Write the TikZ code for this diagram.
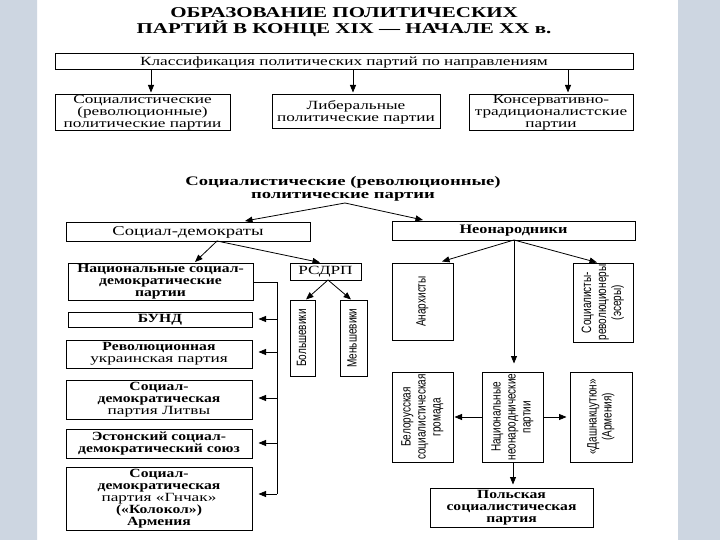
\documentclass[tikz,border=0pt]{standalone}
\usepackage{fontspec}
\setmainfont{Liberation Serif}
\newfontfamily\wserif[FakeStretch=1.25]{Liberation Serif}
\newfontfamily\wreg[FakeStretch=1.38]{Liberation Serif}
\newfontfamily\nsans[FakeStretch=0.74]{Liberation Sans}
\usetikzlibrary{arrows.meta,calc}
\definecolor{sTop}{RGB}{132,140,152}
\definecolor{sTop2}{RGB}{175,183,195}
\definecolor{sMid}{RGB}{205,214,225}
\definecolor{sLow}{RGB}{232,236,240}
\definecolor{sBot}{RGB}{150,150,152}
\pgfdeclareverticalshading{sideshade}{100bp}{color(0bp)=(sBot); color(2bp)=(sBot); color(5bp)=(sLow); color(25bp)=(sMid); color(80bp)=(sMid); color(93bp)=(sTop2); color(100bp)=(sTop)}
\tikzset{
  bx/.style={draw=black, line width=1pt, inner sep=0pt, align=center, font=\wreg\fontsize{12.5}{12}\selectfont},
  bxb/.style={bx, font=\wserif\bfseries\fontsize{12.5}{12}\selectfont},
  vbx/.style={draw=black, line width=1pt, inner sep=0pt, font=\nsans\fontsize{13.5}{15}\selectfont},
  ttl/.style={font=\wserif\bfseries\fontsize{15}{15}\selectfont, inner sep=0pt},
  sttl/.style={font=\wserif\bfseries\fontsize{13}{13}\selectfont, inner sep=0pt},
  arr/.style={line width=0.8pt, -{Triangle[length=7.5pt,width=6pt]}},
  ln/.style={line width=0.8pt}
}
\newcommand{\vtext}[1]{\rotatebox{90}{\begin{tabular}{@{}c@{}}#1\end{tabular}}}
\begin{document}
\begin{tikzpicture}[x=1pt,y=-1pt]
\useasboundingbox (0,0) rectangle (720,540);
\fill[white] (0,0) rectangle (720,540);
\shade[shading=sideshade] (0,0) rectangle (37,540);
\shade[shading=sideshade] (678,0) rectangle (720,540);

% titles
\node[ttl] (title1) at (344,12.5) {\scalebox{1.12}[1]{ОБРАЗОВАНИЕ ПОЛИТИЧЕСКИХ}};
\node[ttl] (title2) at (344,28.5) {\scalebox{1.12}[1]{ПАРТИЙ В КОНЦЕ XIX — НАЧАЛЕ XX в.}};

\node[bx, minimum width=578, minimum height=16] (klass) at (344,62) {Классификация политических партий по направлениям};
\node[bx, minimum width=175, minimum height=36] (soc) at (142.5,113) {Социалистические\\(революционные)\\политические партии};
\node[bx, minimum width=168, minimum height=34] (lib) at (356,112) {Либеральные\\политические партии};
\node[bx, minimum width=164, minimum height=36] (kons) at (551,113) {Консервативно-\\традиционалистские\\партии};

\coordinate (k1) at (151,70);
\coordinate (k2) at (353,70);
\coordinate (k3) at (568,70);
\draw[arr, shorten >=2pt] (k1) -- (k1 |- soc.north);
\draw[arr, shorten >=2pt] (k2) -- (k2 |- lib.north);
\draw[arr, shorten >=2pt] (k3) -- (k3 |- kons.north);

\node[sttl] (sub1) at (343,182) {\scalebox{1.15}[1]{Социалистические (революционные)}};
\node[sttl] (sub2) at (343,196.5) {\scalebox{1.15}[1]{политические партии}};

% left branch
\node[bx, minimum width=244, minimum height=18, font=\wreg\fontsize{13.5}{12}\selectfont] (sd) at (188,232) {Социал-демократы};
\node[bxb, minimum width=243, minimum height=18, font=\wserif\bfseries\fontsize{13}{12}\selectfont] (neo) at (513.5,231) {Неонародники};

\coordinate (sb) at (345,203);
\draw[arr] (sb) -- (245,221);
\draw[arr] (sb) -- (423,220);

\node[bxb, minimum width=185, minimum height=37] (nat) at (160.5,281.5) {Национальные социал-\\демократические\\партии};
\node[bx, minimum width=71, minimum height=17] (rsdrp) at (325.5,271.5) {РСДРП};

\coordinate (sdb) at (217,241);
\draw[arr] (sdb) -- (195,262);
\draw[arr] (sdb) -- (320,262.5);

\node[vbx, minimum width=25, minimum height=76] (bol) at (303,338) {\vtext{Большевики}};
\node[vbx, minimum width=27, minimum height=76] (men) at (353.5,338) {\vtext{Меньшевики}};
\coordinate (rb) at (328,280);
\draw[arr] (rb) -- (306,299.5);
\draw[arr] (rb) -- (351,299.5);

\node[bxb, minimum width=184, minimum height=15] (bund) at (160,319.5) {БУНД};
\node[bx, minimum width=186, minimum height=28] (rev) at (159,354) {{\wserif\bfseries Революционная}\\украинская партия};
\node[bx, minimum width=186, minimum height=39] (lit) at (159,399.5) {{\wserif\bfseries Социал-}\\{\wserif\bfseries демократическая}\\партия Литвы};
\node[bxb, minimum width=186, minimum height=29] (est) at (159,443.5) {Эстонский социал-\\демократический союз};
\node[bxb, minimum width=186, minimum height=63] (gn) at (159,498.5) {Социал-\\демократическая\\{\wreg\mdseries партия «Гнчак»}\\(«Колокол»)\\Армения};

\coordinate (vt) at (277,282);
\coordinate (vb) at (277,494);
\draw[ln] (nat.east |- vt) -- (vt) -- (vb);
\foreach \n/\yy in {bund/319, rev/352, lit/398, est/443, gn/494}{
  \draw[arr, shorten >=6pt] (277,\yy) -- (\n.east |- 0,\yy);
}

% right branch
\node[vbx, minimum width=61, minimum height=77] (anar) at (422.5,301.5) {\vtext{Анархисты}};
\node[vbx, minimum width=60, minimum height=79] (sr) at (603,302.5) {\vtext{Социалисты-\\революционеры\\(эсеры)}};
\node[vbx, minimum width=61, minimum height=90] (bel) at (422.5,417) {\vtext{Белорусская\\социалистическая\\громада}};
\node[vbx, minimum width=61, minimum height=90] (natn) at (512.5,417) {\vtext{Национальные\\неонароднические\\партии}};
\node[vbx, minimum width=62, minimum height=90] (dash) at (601,417) {\vtext{«Дашнакцутюн»\\(Армения)}};
\node[bxb, minimum width=163, minimum height=39] (pol) at (511.5,507.5) {Польская\\социалистическая\\партия};

\coordinate (nb) at (514,240);
\draw[arr] (nb) -- (442,261.5);
\draw[arr] (nb) -- (597,262.5);
\draw[arr, shorten >=8pt] (nb) -- (nb |- natn.north);
\draw[arr, shorten >=1pt] (natn.west) -- (bel.east);
\draw[arr, shorten >=3pt] (natn.east) -- (dash.west);
\draw[arr, shorten >=3pt] (natn.south -| 513,0) -- (pol.north -| 513,0);
\end{tikzpicture}
\end{document}
